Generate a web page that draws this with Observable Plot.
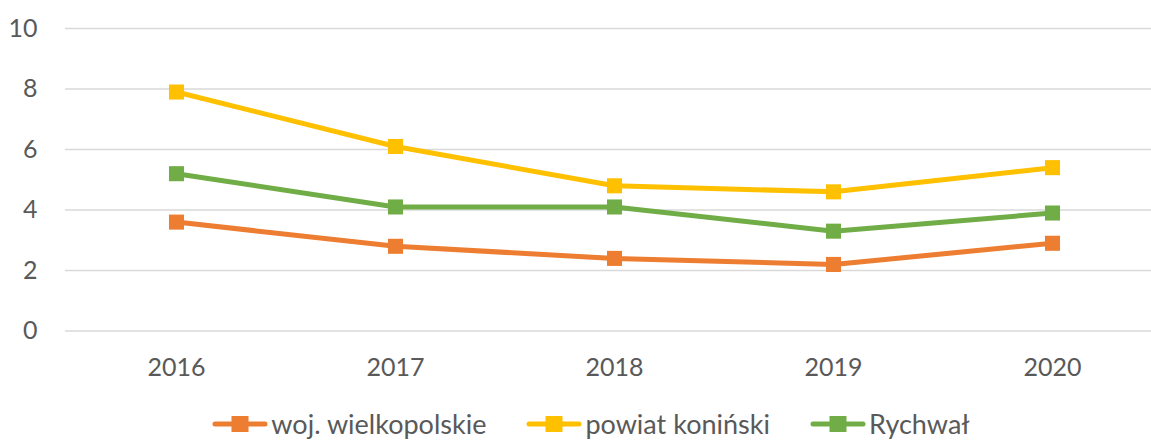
<!DOCTYPE html>
<html>
<head>
<meta charset="utf-8">
<script src="https://cdn.jsdelivr.net/npm/d3@7"></script>
<script src="https://cdn.jsdelivr.net/npm/@observablehq/plot@0.6"></script>
<style>
  html, body { margin: 0; padding: 0; background: #fff; overflow: hidden; }
  body { width: 1151px; height: 440px; font-family: Lato, "Open Sans", sans-serif; }
  #legend { display: flex; justify-content: center; align-items: center; height: 57px; padding-left: 31px;
            font-size: 27px; line-height: 32px; color: #595959; font-family: Lato, sans-serif; }
  .item { display: flex; align-items: center; margin: 0 20px; }
  .item svg { margin-right: 3px; }
</style>
</head>
<body>
<div id="chart"></div>
<div id="legend"></div>
<script>
const years = ["2016", "2017", "2018", "2019", "2020"];
const seriesNames = ["woj. wielkopolskie", "powiat koniński", "Rychwał"];
const seriesColors = ["#ED7D31", "#FFC000", "#70AD47"];
const wojWielkopolskie = [3.6, 2.8, 2.4, 2.2, 2.9];
const powiatKoninski = [7.9, 6.1, 4.8, 4.6, 5.4];
const rychwal = [5.2, 4.1, 4.1, 3.3, 3.9];
const yTicks = [0, 2, 4, 6, 8, 10];

const seriesValues = [wojWielkopolskie, powiatKoninski, rychwal];
const data = seriesNames.flatMap((s, i) => years.map((y, j) => ({series: s, year: y, value: seriesValues[i][j]})));

const chart = Plot.plot({
  width: 1151,
  height: 395,
  marginLeft: 65,
  marginRight: 0,
  marginTop: 28,
  marginBottom: 64.5,
  style: {fontFamily: "Lato, sans-serif", fontSize: "25px", color: "#595959", background: "#fff"},
  x: {type: "point", domain: years, padding: 0.5, range: [65, 1162], label: null},
  y: {domain: [0, 10], ticks: yTicks, label: null},
  color: {domain: seriesNames, range: seriesColors},
  marks: [
    Plot.ruleY(yTicks, {stroke: "#D9D9D9", strokeWidth: 1.5}),
    Plot.axisX({tickSize: 0, tickPadding: 27, fontSize: 25, fill: "#595959"}),
    Plot.axisY({ticks: yTicks, tickSize: 0, tickPadding: 28, fontSize: 25, fill: "#595959"}),
    Plot.line(data, {x: "year", y: "value", z: "series", stroke: "series", strokeWidth: 5, strokeLinejoin: "round", strokeLinecap: "round"}),
    Plot.dot(data, {x: "year", y: "value", fill: "series", symbol: "square", r: 8.5, stroke: "none"})
  ]
});
document.getElementById("chart").appendChild(chart);

const legend = document.getElementById("legend");
seriesNames.forEach((name, i) => {
  const item = document.createElement("div");
  item.className = "item";
  const c = seriesColors[i];
  item.innerHTML = `<svg width="56" height="20"><line x1="3" y1="10" x2="53" y2="10" stroke="${c}" stroke-width="5" stroke-linecap="round"/><rect x="19.5" y="2" width="17" height="16" fill="${c}"/></svg><span>${name}</span>`;
  legend.appendChild(item);
});
</script>
</body>
</html>
